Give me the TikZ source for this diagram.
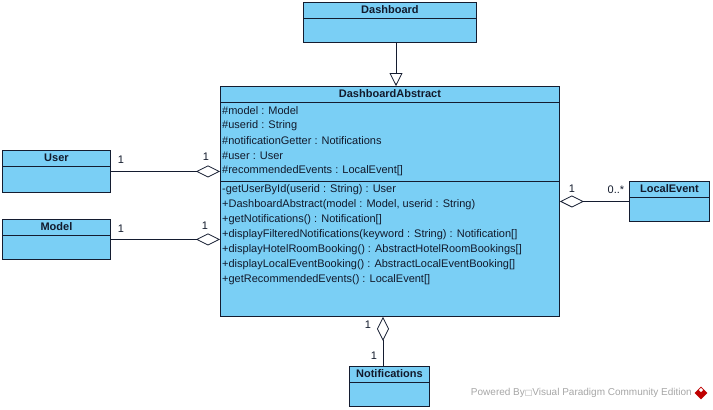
\documentclass[tikz,border=0pt]{standalone}
\usepackage{fontspec}
\setmainfont{Liberation Sans}
\newfontfamily\symfont{DejaVu Sans}
\usepackage{xcolor}
\usepackage{tikz}
\usetikzlibrary{arrows.meta,positioning}
\definecolor{clsfill}{RGB}{122,207,245}
\definecolor{clsline}{RGB}{20,28,48}
\definecolor{clstext}{RGB}{18,26,44}

\begin{document}
\begin{tikzpicture}[x=1pt, y=-1pt,
    every node/.style={font=\fontsize{11}{13}\selectfont, text=clstext},
    cls/.style={draw=clsline, fill=clsfill, line width=0.9pt, anchor=north west, inner sep=0pt},
    ttl/.style={font=\bfseries\fontsize{11}{13}\selectfont},
    mem/.style={anchor=west, inner sep=0pt},
    mult/.style={font=\fontsize{11}{13}\selectfont, inner sep=0pt},
    gen/.style={-{Triangle[open,length=13pt,width=13pt]}, line width=0.8pt, draw=clsline},
    agg/.style={-{Diamond[open,length=24pt,width=12pt]}, line width=0.8pt, draw=clsline}]
    \useasboundingbox (0,0) rectangle (713,410);
    % classes: name/title/left/top/right/bottom
    \foreach \nm/\tl/\xa/\ya/\xb/\yb in {dash/Dashboard/303/2/476/42, user/User/2/150/110/192,
        model/Model/2/219/110/259, event/LocalEvent/629/181/709/221,
        notif/Notifications/349/366/429/406, dabs/DashboardAbstract/220/86/559/316} {
      \node[cls, minimum width={\xb pt-\xa pt}, minimum height={\yb pt-\ya pt}] (\nm) at (\xa,\ya) {};
      \draw[clsline, line width=0.9pt] (\xa,\ya+16) -- (\xb,\ya+16);
      \node[ttl] (\nm-t) at ([yshift=-8pt]\nm.north) {\tl};
    }
    \draw[clsline, line width=0.9pt] (dabs.west |- 0,181) -- (dabs.east |- 0,181);
    \foreach \t [count=\i] in {\#model : Model, \#userid : String, \#notificationGetter : Notifications,
        \#user : User, \#recommendedEvents : LocalEvent[]}
      \node[mem] (att\i) at (222,96+15*\i) {\t};
    \foreach \t [count=\i] in {-getUserById(userid : String) : User,
        {+DashboardAbstract(model : Model, userid : String)},
        +getNotifications() : Notification[],
        +displayFilteredNotifications(keyword : String) : Notification[],
        +displayHotelRoomBooking() : AbstractHotelRoomBookings[],
        +displayLocalEventBooking() : AbstractLocalEventBooking[],
        +getRecommendedEvents() : LocalEvent[]}
      \node[mem] (op\i) at (222,175+15*\i) {\t};

    % relations
    \coordinate (gx) at (396,0);
    \coordinate (nx) at (383,0);
    \draw[gen] (dash.south -| gx) -- (dabs.north -| gx);
    \draw[agg] (user) -- (dabs.west |- user);
    \draw[agg] (model) -- (dabs.west |- model);
    \draw[agg] (event) -- (dabs.east |- event);
    \draw[agg] (notif.north -| nx) -- (dabs.south -| nx);

    \node[mult] (m1) at (121,160) {1};
    \node[mult] (m2) at (206,157) {1};
    \node[mult] (m3) at (121,229) {1};
    \node[mult] (m4) at (205,226) {1};
    \node[mult] (m5) at (572,189) {1};
    \node[mult] (m6) at (616,190) {0..*};
    \node[mult] (m7) at (368,325) {1};
    \node[mult] (m8) at (374,356) {1};

    \node[text=gray!70, font=\fontsize{10}{12}\selectfont, anchor=east, inner sep=0pt] (pw) at (692,393)
      {Powered By{\symfont\fontsize{8}{10}\selectfont□}Visual Paradigm Community Edition};
    \node[fill=red!75!black, rotate=45, minimum size=9pt, inner sep=0pt] (logo) at (701,393) {};
    \node[fill=white, rotate=45, minimum size=3pt, inner sep=0pt] (logo-in) at (701,390) {};
\end{tikzpicture}
\end{document}
